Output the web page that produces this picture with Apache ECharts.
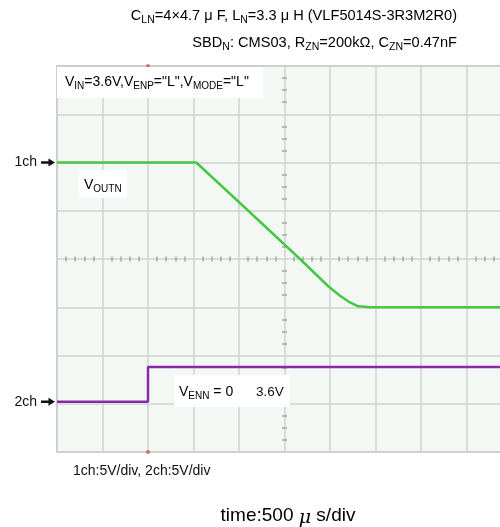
<!DOCTYPE html>
<html>
<head>
<meta charset="utf-8">
<script src="https://cdn.jsdelivr.net/npm/echarts@6/dist/echarts.min.js"></script>
<style>
  html, body { margin: 0; padding: 0; background: #ffffff; }
  #chart { width: 500px; height: 527px; }
</style>
</head>
<body>
<div id="chart"></div>
<script>
// Time base: 500 µs/div, 10 divisions across the screen
const timeMin = 0;
const timeMax = 5000;
const timeDiv = 500;
// Vertical: 8 divisions, centre line at 0
const divMin = -4;
const divMax = 4;
const voltsPerDiv1 = 5;
const voltsPerDiv2 = 5;
// Channel ground markers, in divisions from the centre line
const ch1Ground = 2;
const ch2Ground = -2.96;
const triggerTime = 1000;

// 1ch: V_OUTN (V) against time (µs)
const voutTime = [0, 1530, 2090, 2670, 2990, 3110, 3220, 3310, 3440, 5000];
const voutVolt = [0, 0, -4.9, -10.0, -12.9, -13.8, -14.5, -14.9, -15.0, -15.0];
// 2ch: V_ENN (V) against time (µs)
const ennTime = [0, 1000, 1000, 5000];
const ennVolt = [0, 0, 3.6, 3.6];

const FONT = '"Liberation Sans", Arial, Helvetica, sans-serif';
const GRID = { left: 57, top: 66, width: 455, height: 386 };

const toDiv = (volts, ground, vpd) => volts.map(v => ground + v / vpd);
const pairs = (xs, ys) => xs.map((x, i) => [x, ys[i]]);

const ch1Data = pairs(voutTime, toDiv(voutVolt, ch1Ground, voltsPerDiv1));
const ch2Data = pairs(ennTime, toDiv(ennVolt, ch2Ground, voltsPerDiv2));

const gridLine = { show: true, lineStyle: { color: '#d0d3d0', width: 1.5 } };
const hidden = { show: false };
const centreTick = (n) => ({ show: true, splitNumber: n, length: 2.5, lineStyle: { color: '#a4a6a4', width: 1.5 } });

function centreX(position) {
  return {
    type: 'value', min: timeMin, max: timeMax, interval: timeDiv,
    position: position, offset: -GRID.height / 2,
    axisLine: { show: false, onZero: false }, axisTick: hidden, axisLabel: hidden,
    splitLine: hidden, minorTick: centreTick(5)
  };
}
function centreY(position) {
  return {
    type: 'value', min: divMin, max: divMax, interval: 1,
    position: position, offset: -GRID.width / 2,
    axisLine: { show: false, onZero: false }, axisTick: hidden, axisLabel: hidden,
    splitLine: hidden, minorTick: centreTick(4)
  };
}

const arrowPath = 'path://M0,3.5 L8,3.5 L8,0 L15,5 L8,10 L8,6.5 L0,6.5 Z';
function channelMarker(label, ground) {
  return {
    silent: true,
    symbol: arrowPath,
    symbolSize: [14, 8],
    symbolOffset: [-9, 0],
    itemStyle: { color: '#111111' },
    label: {
      show: true, position: 'left', distance: 4,
      formatter: label, color: '#111111', fontSize: 14, fontFamily: FONT
    },
    data: [{ coord: [timeMin, ground] }]
  };
}

const sub = (size) => ({ fontSize: size, fontFamily: FONT, color: '#111111', lineHeight: size, verticalAlign: 'bottom' });
const txt = (size) => ({ fontSize: size, fontFamily: FONT, color: '#111111', lineHeight: size + 5 });

const chart = echarts.init(document.getElementById('chart'), null, { renderer: 'canvas' });
chart.setOption({
  animation: false,
  backgroundColor: '#ffffff',
  grid: {
    left: GRID.left, top: GRID.top, width: GRID.width, height: GRID.height,
    outerBoundsMode: 'none', containLabel: false,
    show: true, backgroundColor: '#f4f8f4', borderColor: '#b4b6b4', borderWidth: 1.5
  },
  xAxis: [
    {
      type: 'value', min: timeMin, max: timeMax, interval: timeDiv,
      axisLine: { show: false, onZero: false }, axisTick: hidden, axisLabel: hidden,
      splitLine: gridLine
    },
    centreX('bottom'),
    centreX('top')
  ],
  yAxis: [
    {
      type: 'value', min: divMin, max: divMax, interval: 1,
      axisLine: { show: false, onZero: false }, axisTick: hidden, axisLabel: hidden,
      splitLine: gridLine
    },
    centreY('left'),
    centreY('right')
  ],
  series: [
    {
      name: '2ch', type: 'line', data: ch2Data, showSymbol: false, symbol: 'none',
      lineStyle: { color: '#8a2aaa', width: 2.5 }, z: 3,
      markPoint: channelMarker('2ch', ch2Ground)
    },
    {
      name: '1ch', type: 'line', data: ch1Data, showSymbol: false, symbol: 'none',
      lineStyle: { color: '#45c845', width: 2.5 }, z: 4,
      markPoint: channelMarker('1ch', ch1Ground)
    },
    {
      name: 'trigger', type: 'scatter', clip: false, silent: true,
      data: [[triggerTime, divMax], [triggerTime, divMin]],
      symbol: 'circle', symbolSize: 4, itemStyle: { color: '#e0504a' }, z: 5
    }
  ],
  graphic: [
    {
      type: 'text', x: 457, y: 16, z: 100,
      style: {
        text: '{n|C}{s|LN}{n|=4×4.7 μ F, L}{s|N}{n|=3.3 μ H (VLF5014S-3R3M2R0)}',
        align: 'right', verticalAlign: 'middle',
        rich: { n: txt(14.6), s: sub(10.5) }
      }
    },
    {
      type: 'text', x: 457, y: 43, z: 100,
      style: {
        text: '{n|SBD}{s|N}{n|: CMS03, R}{s|ZN}{n|=200kΩ, C}{s|ZN}{n|=0.47nF}',
        align: 'right', verticalAlign: 'middle',
        rich: { n: txt(14.6), s: sub(10.5) }
      }
    },
    { type: 'rect', z: 100, shape: { x: 57, y: 67, width: 206, height: 31 }, style: { fill: '#ffffff' } },
    {
      type: 'text', x: 65, y: 82, z: 101,
      style: {
        text: '{n|V}{s|IN}{n|=3.6V,V}{s|ENP}{n|="L",V}{s|MODE}{n|="L"}',
        align: 'left', verticalAlign: 'middle',
        rich: { n: txt(14), s: sub(10) }
      }
    },
    { type: 'rect', z: 100, shape: { x: 78, y: 170, width: 49, height: 28 }, style: { fill: '#ffffff' } },
    {
      type: 'text', x: 84, y: 185, z: 101,
      style: {
        text: '{n|V}{s|OUTN}',
        align: 'left', verticalAlign: 'middle',
        rich: { n: txt(14), s: sub(10) }
      }
    },
    { type: 'rect', z: 100, shape: { x: 174, y: 375, width: 116, height: 32 }, style: { fill: '#ffffff' } },
    {
      type: 'text', x: 179, y: 392, z: 101,
      style: {
        text: '{n|V}{s|ENN}{n| = 0}',
        align: 'left', verticalAlign: 'middle',
        rich: { n: txt(14), s: sub(10) }
      }
    },
    {
      type: 'text', x: 256, y: 392, z: 101,
      style: { text: '3.6V', font: '13.5px ' + FONT, fill: '#111111', align: 'left', verticalAlign: 'middle' }
    },
    {
      type: 'text', x: 73, y: 471, z: 100,
      style: { text: '1ch:5V/div, 2ch:5V/div', font: '14px ' + FONT, fill: '#111111', align: 'left', verticalAlign: 'middle' }
    },
    {
      type: 'text', x: 288, y: 516, z: 100,
      style: {
        text: '{n|time:500 }{m|μ}{n| s/div}',
        align: 'center', verticalAlign: 'middle',
        rich: {
          n: { fontSize: 19, fontFamily: FONT, color: '#111111', lineHeight: 24 },
          m: { fontSize: 19, fontFamily: '"DejaVu Serif", serif', fontStyle: 'italic', color: '#111111', lineHeight: 24, verticalAlign: 'bottom', padding: [3, 0, 0, 0] }
        }
      }
    }
  ]
});
</script>
</body>
</html>
